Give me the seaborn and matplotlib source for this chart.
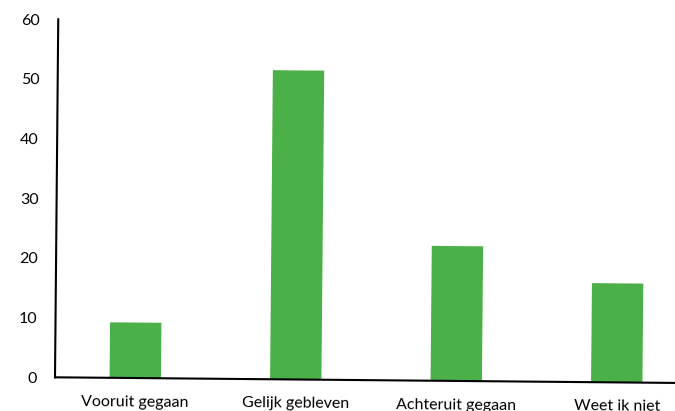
import matplotlib
matplotlib.use("Agg")
import matplotlib.pyplot as plt
import matplotlib.transforms as mtransforms
from matplotlib.axes import Axes
from matplotlib.projections import register_projection
import seaborn as sns
import pandas as pd

# Survey answers and their percentages
categories = ["Vooruit gegaan", "Gelijk gebleven", "Achteruit gegaan", "Weet ik niet"]
values = [9.3, 51.8, 22.6, 16.6]
y_ticks = [0, 10, 20, 30, 40, 50, 60]

BAR_COLOR = "#4BB047"
TILT_DEG = -0.52  # the whole plot area sits slightly turned clockwise


class _CornerRotation(mtransforms.Affine2DBase):
    """Rotation in display space about the lower-left corner of a bbox."""

    def __init__(self, bbox, degrees):
        super().__init__()
        self._bbox = bbox
        self._degrees = degrees
        self._mtx = None
        self.set_children(bbox)

    def get_matrix(self):
        if self._invalid or self._mtx is None:
            x0, y0 = self._bbox.x0, self._bbox.y0
            self._mtx = mtransforms.Affine2D().rotate_deg_around(
                x0, y0, self._degrees).get_matrix()
            self._inverted = None
            self._invalid = 0
        return self._mtx


class TiltedAxes(Axes):
    name = "tilted"

    def _set_lim_and_transforms(self):
        super()._set_lim_and_transforms()
        tilt = _CornerRotation(self.bbox, TILT_DEG)
        self.transData = self.transData + tilt
        self._xaxis_transform = self._xaxis_transform + tilt
        self._yaxis_transform = self._yaxis_transform + tilt
        self.transAxes = self.transAxes + tilt


register_projection(TiltedAxes)

sns.set_style("white")
plt.rcParams["font.family"] = ["Lato", "DejaVu Sans"]

df = pd.DataFrame({"categorie": categories, "waarde": values})

fig = plt.figure(figsize=(6.75, 4.11), dpi=100)
ax = fig.add_axes([55 / 675, 33.7 / 411, 642 / 675, 358 / 411], projection="tilted")
ax.patch.set_visible(False)

sns.barplot(data=df, x="categorie", y="waarde", color=BAR_COLOR, saturation=1,
            width=0.32, linewidth=0, clip_on=False, ax=ax)

ax.set_xlim(-0.5, len(categories) - 0.5)
ax.set_ylim(0, 60)
ax.set_yticks(y_ticks)
ax.set_xlabel("")
ax.set_ylabel("")

for side in ("top", "right"):
    ax.spines[side].set_visible(False)
for side in ("left", "bottom"):
    ax.spines[side].set_color("black")
    ax.spines[side].set_linewidth(1.5)

ax.tick_params(axis="y", length=0, pad=13, labelsize=11.5, labelcolor="black",
               labelrotation=TILT_DEG)
ax.tick_params(axis="x", length=0, pad=12, labelsize=11.5, labelcolor="black",
               labelrotation=TILT_DEG)

fig.savefig("out.png", dpi=100)
